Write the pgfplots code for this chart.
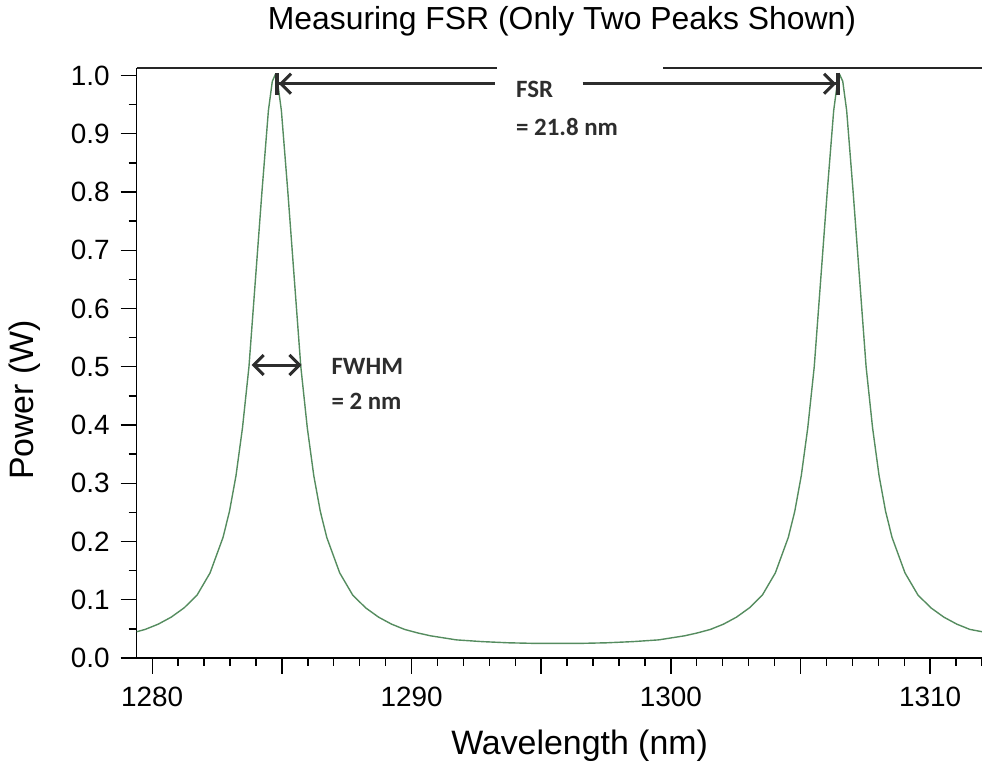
\documentclass[border=0pt]{standalone}
\usepackage{fontspec}
\setmainfont{Liberation Sans}
\newfontfamily\calibri{Carlito}
\usepackage{pgfplots}
\pgfplotsset{compat=1.18}
\usetikzlibrary{arrows.meta}
\definecolor{curve}{RGB}{85,140,95}
\definecolor{anno}{RGB}{45,45,45}

\begin{document}
\begin{tikzpicture}
\begin{axis}[name=ax, scale only axis, width=422.7bp, height=295bp,
  xmin=1279.4, xmax=1312, ymin=0, ymax=1.013,
  clip=false,
  axis x line*=bottom, axis y line*=left,
  axis line style={line width=0.8bp, black, -},
  xtick={1280,1290,1300,1310},
  minor xtick={1279,1280,...,1312},
  extra x ticks={1285,1295,1305}, extra x tick labels={},
  ytick={0,0.1,0.2,0.3,0.4,0.5,0.6,0.7,0.8,0.9,1.0},
  minor ytick={0.05,0.15,0.25,0.35,0.45,0.55,0.65,0.75,0.85,0.95},
  tick align=outside, major tick length=8bp, minor tick length=4bp,
  every tick/.style={black, line width=0.7bp},
  /pgf/number format/assume math mode=true,
  xticklabel style={font=\fontsize{14}{16}\selectfont, yshift=-3bp,
    /pgf/number format/.cd, set thousands separator={}},
  yticklabel style={font=\fontsize{14}{16}\selectfont, xshift=-2bp,
    /pgf/number format/.cd, fixed, fixed zerofill, precision=1},
]
\addplot[curve, line width=0.7bp] coordinates {
(1279.40,0.045) (1279.73,0.049) (1280.23,0.058) (1280.73,0.070) (1281.23,0.086)
(1281.73,0.108) (1282.23,0.146) (1282.73,0.207) (1282.98,0.252) (1283.23,0.313)
(1283.48,0.395) (1283.73,0.500) (1283.98,0.650) (1284.23,0.800) (1284.48,0.940)
(1284.63,0.990) (1284.73,1.000) (1284.83,0.990)
(1284.98,0.940) (1285.23,0.800) (1285.48,0.650) (1285.73,0.500) (1285.98,0.395)
(1286.23,0.313) (1286.48,0.252) (1286.73,0.207) (1287.23,0.146) (1287.73,0.108)
(1288.23,0.086) (1288.73,0.070) (1289.23,0.058) (1289.73,0.049) (1290.23,0.043)
(1290.73,0.038) (1291.73,0.031) (1292.73,0.028) (1293.73,0.026) (1294.73,0.025)
(1295.63,0.025) (1296.53,0.025) (1297.53,0.026) (1298.53,0.028) (1299.53,0.031)
(1300.53,0.038) (1301.03,0.043) (1301.53,0.049) (1302.03,0.058) (1302.53,0.070)
(1303.03,0.086) (1303.53,0.108) (1304.03,0.146) (1304.53,0.207) (1304.78,0.252)
(1305.03,0.313) (1305.28,0.395) (1305.53,0.500) (1305.78,0.650) (1306.03,0.800)
(1306.28,0.940) (1306.43,0.990) (1306.53,1.000) (1306.63,0.990)
(1306.78,0.940) (1307.03,0.800) (1307.28,0.650) (1307.53,0.500)
(1307.78,0.395) (1308.03,0.313) (1308.28,0.252) (1308.53,0.207) (1309.03,0.146)
(1309.53,0.108) (1310.03,0.086) (1310.53,0.070) (1311.03,0.058) (1311.53,0.049)
(1312.00,0.045)
};
% broken top line
\draw[line width=0.8bp, black!85] (rel axis cs:0,1) -- (axis cs:1293.3,1.013);
\draw[line width=0.8bp, black!85] (axis cs:1299.7,1.013) -- (rel axis cs:1,1);
% FSR arrows
\draw[line width=1.5bp, anno, {Bar[width=11bp,line width=2bp]Straight Barb[length=5bp,width=10bp,line width=1.5bp]}-] (axis cs:1284.73,0.986) -- (axis cs:1293.2,0.986);
\draw[line width=1.5bp, anno, -{Straight Barb[length=5bp,width=10bp,line width=1.5bp]Bar[width=11bp,line width=2bp]}] (axis cs:1296.6,0.986) -- (axis cs:1306.53,0.986);
\node[anchor=west, inner sep=0, text=anno, font=\calibri\bfseries\fontsize{12.5}{14}\selectfont] at (axis cs:1294.02,0.976) {FSR};
\node[anchor=west, inner sep=0, text=anno, font=\calibri\bfseries\fontsize{12.5}{14}\selectfont] at (axis cs:1294.02,0.912) {= 21.8 nm};
% FWHM arrow
\draw[line width=1.5bp, anno, {Straight Barb[length=5bp,width=10bp,line width=1.5bp]}-{Straight Barb[length=5bp,width=10bp,line width=1.5bp]}] (axis cs:1283.83,0.503) -- (axis cs:1285.76,0.503);
\node[anchor=west, inner sep=0, text=anno, font=\calibri\bfseries\fontsize{12.5}{14}\selectfont] at (axis cs:1286.9,0.501) {FWHM};
\node[anchor=west, inner sep=0, text=anno, font=\calibri\bfseries\fontsize{12.5}{14}\selectfont] at (axis cs:1286.9,0.441) {= 2 nm};
% title and labels
\node[font=\fontsize{16}{19}\selectfont] at (axis cs:1295.8,1.093) {Measuring FSR (Only Two Peaks Shown)};
\node[font=\fontsize{17}{20}\selectfont] at (axis cs:1296.48,-0.151) {Wavelength (nm)};
\node[font=\fontsize{17}{20}\selectfont, rotate=90] at (axis cs:1275.09,0.443) {Power (W)};
\end{axis}
\pgfresetboundingbox
\path[use as bounding box] ([xshift=-68.35bp,yshift=-54.5bp]ax.south west) rectangle ([yshift=34bp]ax.north east);
\end{tikzpicture}
\end{document}
